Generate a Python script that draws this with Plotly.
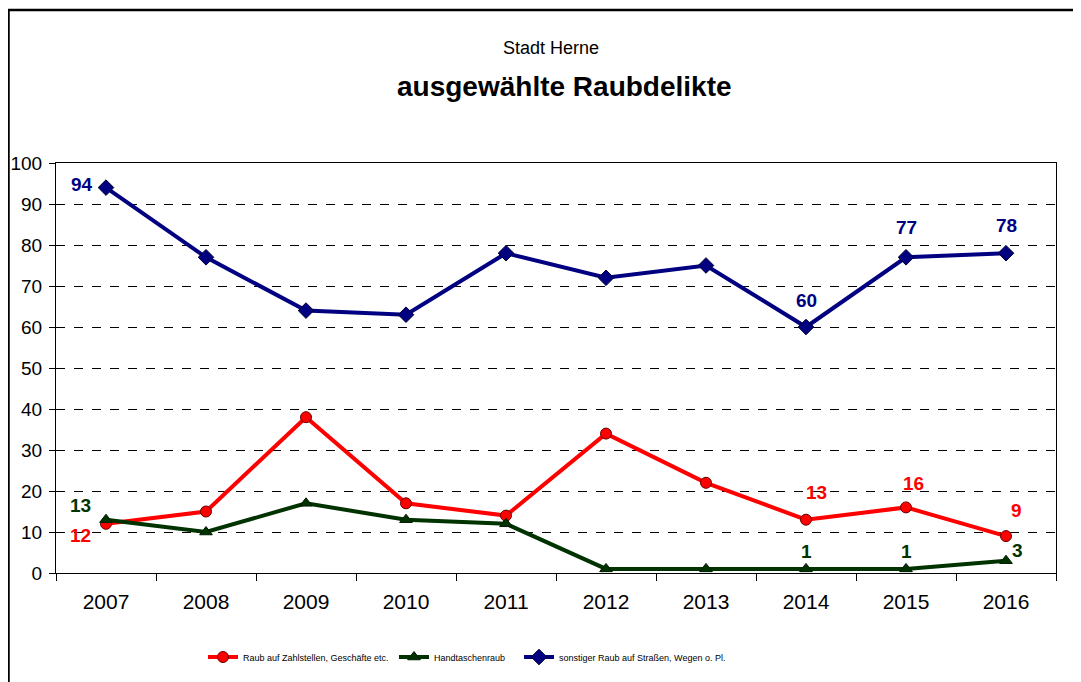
import plotly.graph_objects as go

years = ["2007", "2008", "2009", "2010", "2011", "2012", "2013", "2014", "2015", "2016"]
raub_zahlstellen = [12, 15, 38, 17, 14, 34, 22, 13, 16, 9]
handtaschenraub = [13, 10, 17, 13, 12, 1, 1, 1, 1, 3]
sonstiger_raub = [94, 77, 64, 63, 78, 72, 75, 60, 77, 78]
y_ticks = [0, 10, 20, 30, 40, 50, 60, 70, 80, 90, 100]

names = ["Raub auf Zahlstellen, Geschäfte etc.", "Handtaschenraub",
         "sonstiger Raub auf Straßen, Wegen o. Pl."]

RED = "#FF0000"
GREEN = "#003300"
BLUE = "#000080"
FONT = "Liberation Sans Narrow, Arial Narrow, Liberation Sans, Arial, sans-serif"

W, H = 1073, 674          # page body has an 8px margin
ML, MR, MT, MB = 48, 25, 155, 109
plot_h = H - MT - MB
plot_w = W - ML - MR

def py(pix):
    # pixel row in the screenshot -> paper y
    return (H - MB - (pix - 8)) / plot_h

def px(pix):
    return (pix - 8 - ML) / plot_w

fig = go.Figure()
fig.add_trace(go.Scatter(x=years, y=raub_zahlstellen, name=names[0], mode="lines+markers",
                         line=dict(color=RED, width=4), legend="legend",
                         marker=dict(symbol="circle", size=11, color=RED,
                                     line=dict(color="#660000", width=1))))
fig.add_trace(go.Scatter(x=years, y=handtaschenraub, name=names[1], mode="lines+markers",
                         line=dict(color=GREEN, width=4), legend="legend2",
                         marker=dict(symbol="triangle-up", size=11, color=GREEN,
                                     line=dict(color="#001a00", width=1))))
fig.add_trace(go.Scatter(x=years, y=sonstiger_raub, name=names[2], mode="lines+markers",
                         line=dict(color=BLUE, width=4), legend="legend3",
                         marker=dict(symbol="diamond", size=12, color=BLUE,
                                     line=dict(color="#000030", width=1))))

# data labels: (series values, color, index, xshift, yshift)
label_specs = [
    (sonstiger_raub, BLUE, 0, -24, 3),
    (sonstiger_raub, BLUE, 7, 0, 27),
    (sonstiger_raub, BLUE, 8, 0, 30),
    (sonstiger_raub, BLUE, 9, 0, 28),
    (raub_zahlstellen, RED, 0, -26, -12),
    (raub_zahlstellen, RED, 7, 10, 27),
    (raub_zahlstellen, RED, 8, 7, 24),
    (raub_zahlstellen, RED, 9, 10, 26),
    (handtaschenraub, GREEN, 0, -26, 14),
    (handtaschenraub, GREEN, 7, 0, 17),
    (handtaschenraub, GREEN, 8, 0, 17),
    (handtaschenraub, GREEN, 9, 11, 10),
]
annotations = []
for vals, col, i, dx, dy in label_specs:
    annotations.append(dict(x=i, y=vals[i], xref="x", yref="y",
                            text="<b>" + str(vals[i]) + "</b>",
                            showarrow=False, xshift=dx, yshift=dy,
                            font=dict(family=FONT, size=19, color=col)))

annotations.append(dict(x=px(551), y=py(48), xref="paper", yref="paper", text="Stadt Herne",
                        showarrow=False, yanchor="middle", xanchor="center",
                        font=dict(family=FONT, size=18, color="black")))
annotations.append(dict(x=px(564), y=py(86), xref="paper", yref="paper",
                        text="<b>ausgewählte Raubdelikte</b>",
                        showarrow=False, yanchor="middle", xanchor="center",
                        font=dict(family=FONT, size=28, color="black")))

leg_common = dict(orientation="h", yanchor="middle", xanchor="left", itemwidth=30,
                  font=dict(family=FONT, size=9, color="black"), bgcolor="rgba(0,0,0,0)")

fig.update_layout(
    width=W, height=H,
    margin=dict(l=ML, r=MR, t=MT, b=MB, autoexpand=False),
    paper_bgcolor="white", plot_bgcolor="white",
    showlegend=True,
    annotations=annotations,
    legend=dict(x=px(203), y=py(657), **leg_common),
    legend2=dict(x=px(394), y=py(657), **leg_common),
    legend3=dict(x=px(519), y=py(657), **leg_common),
    xaxis=dict(type="category", tickson="boundaries", ticks="outside", ticklen=7,
               tickcolor="black", showline=True, linecolor="black", linewidth=1,
               mirror=True, showgrid=False, range=[-0.5, 9.5], automargin=False,
               ticklabelstandoff=10,
               tickfont=dict(family=FONT, size=21, color="black")),
    yaxis=dict(range=[0, 100], tickvals=y_ticks, ticks="outside", ticklen=6,
               tickcolor="black", showline=True, linecolor="black", linewidth=1,
               mirror=True, showgrid=True, gridcolor="black", griddash="dash",
               gridwidth=1, zeroline=False, automargin=False,
               ticklabelstandoff=3,
               tickfont=dict(family=FONT, size=19, color="black")),
)

# outer frame (top and left edges)
fig.add_shape(type="line", xref="paper", yref="paper", x0=px(8), x1=1.2, y0=py(10), y1=py(10),
              line=dict(color="black", width=2.5))
fig.add_shape(type="line", xref="paper", yref="paper", x0=px(8.5), x1=px(8.5), y0=py(10), y1=py(720),
              line=dict(color="black", width=2.5))

fig.write_html("out.html")
